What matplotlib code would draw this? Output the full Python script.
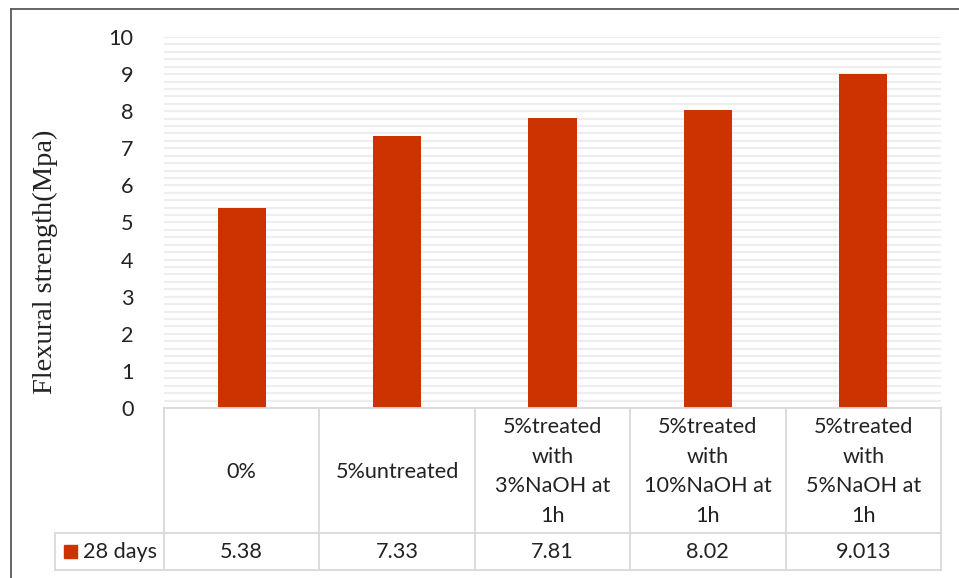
import matplotlib.pyplot as plt
from matplotlib.patches import Rectangle
from matplotlib.lines import Line2D
import numpy as np

# ---- data ----
categories = ["0%", "5%untreated", "5%treated\nwith\n3%NaOH at\n1h",
              "5%treated\nwith\n10%NaOH at\n1h", "5%treated\nwith\n5%NaOH at\n1h"]
strength = [5.38, 7.33, 7.81, 8.02, 9.013]
value_labels = ["5.38", "7.33", "7.81", "8.02", "9.013"]
series_name = "28 days"

BAR = "#CC3300"
GRID = "#EEEEEE"
TABLE = "#D9D9D9"
TXT = "#222222"
SANS = ["Lato", "DejaVu Sans"]
FS = 15.6

W, H = 959, 578
fig = plt.figure(figsize=(W / 100, H / 100), dpi=100)


def fx(px):
    return px / W


def fy(py):
    return 1 - py / H


# main plot area (pixel box 164..941 x 37..408)
ax = fig.add_axes([fx(164), fy(408), fx(941) - fx(164), fy(37) - fy(408)])
x = np.arange(len(categories))
ax.set_xlim(-0.5, len(categories) - 0.5)
ax.set_ylim(0, 10)
for g in np.arange(0.2, 10.01, 0.2):
    ax.axhline(g, color=GRID, lw=1.6, zorder=0)
ax.bar(x, strength, width=0.31, color=BAR, zorder=3)
ax.set_yticks(range(0, 11))
ax.tick_params(axis="y", length=0, pad=22, labelsize=FS, labelcolor=TXT)
for lab in ax.get_yticklabels():
    lab.set_fontfamily(SANS)
ax.set_xticks([])
for s in ax.spines.values():
    s.set_visible(False)

fig.text(fx(45), fy(262), "Flexural strength(Mpa)", rotation=90,
         ha="center", va="center", fontsize=20.5, family="Liberation Serif",
         color=TXT)

# ---- data table under the plot ----
ov = fig.add_axes([0, 0, 1, 1], zorder=5)
ov.set_xlim(0, W)
ov.set_ylim(H, 0)
ov.axis("off")

y_top, y_mid, y_bot = 408, 533, 570
leg_left = 55
# column edges from the main axes' data transform
edges = [ax.transData.transform((e, 0))[0] for e in np.arange(-0.5, len(categories), 1.0)]
edges = [e * W / fig.bbox.width for e in edges]
centers = [(a + b) / 2 for a, b in zip(edges[:-1], edges[1:])]

lw = 1.3
ov.add_line(Line2D([edges[0], edges[-1]], [y_top, y_top], color=TABLE, lw=lw))
ov.add_line(Line2D([leg_left, edges[-1]], [y_mid, y_mid], color=TABLE, lw=lw))
ov.add_line(Line2D([leg_left, edges[-1]], [y_bot, y_bot], color=TABLE, lw=lw))
ov.add_line(Line2D([leg_left, leg_left], [y_mid, y_bot], color=TABLE, lw=lw))
for e in edges:
    ov.add_line(Line2D([e, e], [y_top, y_bot], color=TABLE, lw=lw))

for c, cat, v in zip(centers, categories, value_labels):
    ov.text(c, (y_top + y_mid) / 2 + 1, cat, ha="center", va="center",
            fontsize=FS, family=SANS, color=TXT, linespacing=1.62)
    ov.text(c, (y_mid + y_bot) / 2 + 1, v, ha="center", va="center",
            fontsize=FS, family=SANS, color=TXT)

ov.add_patch(Rectangle((64, 545), 13, 13, color=BAR))
ov.text(83, (y_mid + y_bot) / 2 + 1, series_name, ha="left", va="center",
        fontsize=FS, family=SANS, color=TXT)

# outer frame (top and left edges only, as in the reference)
ov.add_line(Line2D([10.5, W], [8.5, 8.5], color="#595959", lw=1.3))
ov.add_line(Line2D([10.5, 10.5], [8.5, H], color="#595959", lw=1.3))

fig.savefig("out.png", dpi=100)
